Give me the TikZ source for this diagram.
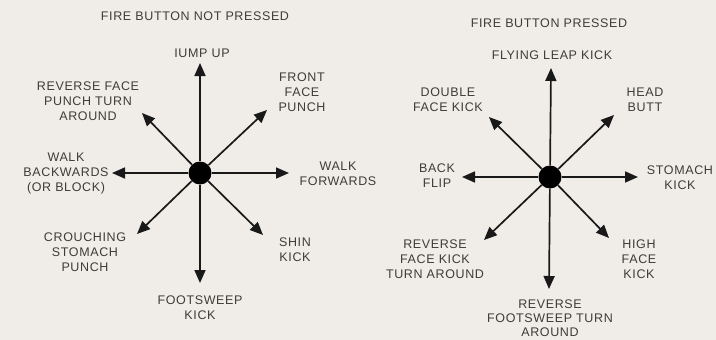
\documentclass[tikz,border=0pt]{standalone}
\usepackage{fontspec}
\setmainfont{Liberation Sans}[LetterSpace=5]
\usepackage{xcolor}
\definecolor{paper}{RGB}{240,236,232}
\definecolor{ink}{RGB}{62,60,58}
\usetikzlibrary{arrows.meta}

\begin{document}
\begin{tikzpicture}[
  x=1pt,y=-1pt,
  lbl/.style={font=\fontsize{12.5}{15}\selectfont,text=ink,align=center,inner sep=0pt},
  hub/.style={circle,fill=black,minimum size=23pt,inner sep=0pt},
  arrow/.style={-{Triangle[length=13pt,width=11pt]},line width=1.7pt,black!90}
]
  \fill[paper] (0,0) rectangle (716,340);

  % fire button not pressed
  \node[lbl] (titleL) at (195,16) {FIRE BUTTON NOT PRESSED};
  \node[hub] (hubL) at (200,173) {};
  \node[lbl] (jump) at (202,53) {IUMP UP};
  \node[lbl] (front) at (302,92) {FRONT\\FACE\\PUNCH};
  \node[lbl] (revpunch) at (88,101) {REVERSE FACE\\PUNCH TURN\\AROUND};
  \node[lbl] (walkback) at (66,173) {WALK\\BACKWARDS\\(OR BLOCK)};
  \node[lbl] (walkfwd) at (338,174) {WALK\\FORWARDS};
  \node[lbl] (crouch) at (85,252) {CROUCHING\\STOMACH\\PUNCH};
  \node[lbl] (shin) at (295,250) {SHIN\\KICK};
  \node[lbl] (sweep) at (200,308) {FOOTSWEEP\\KICK};

  \coordinate (Lu) at (200,63);
  \coordinate (Lur) at (267,110);
  \coordinate (Lul) at (142,113);
  \coordinate (Lr) at (289,173);
  \coordinate (Ll) at (112,173);
  \coordinate (Ldl) at (137,234);
  \coordinate (Ld) at (200,283);
  \coordinate (Ldr) at (263,235);

  \draw[arrow] (hubL) -- (Lu);
  \draw[arrow] (hubL) -- (Lur);
  \draw[arrow] (hubL) -- (Lul);
  \draw[arrow] (hubL) -- (Lr);
  \draw[arrow] (hubL) -- (Ll);
  \draw[arrow] (hubL) -- (Ldl);
  \draw[arrow] (hubL) -- (Ld);
  \draw[arrow] (hubL) -- (Ldr);

  % fire button pressed
  \node[lbl] (titleR) at (549,23) {FIRE BUTTON PRESSED};
  \node[hub] (hubR) at (550,177) {};
  \node[lbl] (leap) at (552,55) {FLYING LEAP KICK};
  \node[lbl] (double) at (448,100) {DOUBLE\\FACE KICK};
  \node[lbl] (head) at (645,100) {HEAD\\BUTT};
  \node[lbl] (backflip) at (437,176) {BACK\\FLIP};
  \node[lbl] (stomach) at (680,178) {STOMACH\\KICK};
  \node[lbl] (revface) at (435,259) {REVERSE\\FACE KICK\\TURN AROUND};
  \node[lbl] (high) at (639,259) {HIGH\\FACE\\KICK};
  \node[lbl,font=\fontsize{12.5}{14}\selectfont] (revsweep) at (550,318) {REVERSE\\FOOTSWEEP TURN\\AROUND};

  \coordinate (Ru) at (551,68);
  \coordinate (Rur) at (614,115);
  \coordinate (Rul) at (489,117);
  \coordinate (Rr) at (638,177);
  \coordinate (Rl) at (462,177);
  \coordinate (Rdl) at (484,240);
  \coordinate (Rd) at (549,289);
  \coordinate (Rdr) at (609,238);

  \draw[arrow] (hubR) -- (Ru);
  \draw[arrow] (hubR) -- (Rur);
  \draw[arrow] (hubR) -- (Rul);
  \draw[arrow] (hubR) -- (Rr);
  \draw[arrow] (hubR) -- (Rl);
  \draw[arrow] (hubR) -- (Rdl);
  \draw[arrow] (hubR) -- (Rd);
  \draw[arrow] (hubR) -- (Rdr);
\end{tikzpicture}
\end{document}
